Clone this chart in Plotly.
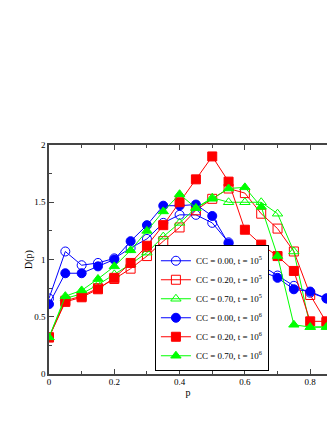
import plotly.graph_objects as go

# Data
p = [0.00, 0.05, 0.10, 0.15, 0.20, 0.25, 0.30, 0.35, 0.40,
     0.45, 0.50, 0.55, 0.60, 0.65, 0.70, 0.75, 0.80, 0.85]

cc000_t5 = [0.66, 1.07, 0.95, 0.97, 1.01, 1.10, 1.18, 1.32, 1.39,
            1.39, 1.32, 1.15, 1.05, 0.95, 0.86, 0.77, 0.71, 0.66]
cc020_t5 = [0.32, 0.64, 0.68, 0.75, 0.83, 0.92, 1.03, 1.16, 1.28,
            1.43, 1.53, 1.62, 1.58, 1.40, 1.27, 1.07, 0.69, 0.45]
cc070_t5 = [0.32, 0.66, 0.70, 0.78, 0.87, 0.96, 1.06, 1.20, 1.32,
            1.45, 1.54, 1.50, 1.50, 1.50, 1.40, 1.07, 0.41, 0.41]
cc000_t6 = [0.61, 0.88, 0.88, 0.94, 1.00, 1.16, 1.30, 1.47, 1.47,
            1.48, 1.38, 1.14, 1.00, 0.90, 0.84, 0.74, 0.72, 0.66]
cc020_t6 = [0.32, 0.63, 0.67, 0.74, 0.84, 0.97, 1.12, 1.30, 1.50,
            1.70, 1.90, 1.68, 1.26, 1.13, 1.03, 0.90, 0.46, 0.46]
cc070_t6 = [0.32, 0.68, 0.73, 0.83, 0.94, 1.08, 1.25, 1.42, 1.57,
            1.45, 1.53, 1.62, 1.63, 1.46, 1.03, 0.43, 0.41, 0.41]

series = [
    ("CC = 0.00, t = 10<sup>5</sup>", cc000_t5, "#0000ff", "circle-open"),
    ("CC = 0.20, t = 10<sup>5</sup>", cc020_t5, "#ff0000", "square-open"),
    ("CC = 0.70, t = 10<sup>5</sup>", cc070_t5, "#00ff00", "triangle-up-open"),
    ("CC = 0.00, t = 10<sup>6</sup>", cc000_t6, "#0000ff", "circle"),
    ("CC = 0.20, t = 10<sup>6</sup>", cc020_t6, "#ff0000", "square"),
    ("CC = 0.70, t = 10<sup>6</sup>", cc070_t6, "#00ff00", "triangle-up"),
]

FONT = "Liberation Serif"

fig = go.Figure()
for name, vals, color, symbol in series:
    fig.add_trace(go.Scatter(
        x=p, y=vals, name=name, mode="lines+markers",
        line=dict(color=color, width=1),
        marker=dict(symbol=symbol, size=9, color=color,
                    line=dict(color=color, width=1)),
    ))

axis_common = dict(
    showgrid=False, zeroline=False, showline=True,
    linecolor="#444", linewidth=1.5,
    ticks="inside", ticklen=5, tickcolor="#444",
    tickfont=dict(family=FONT, size=9, color="black"),
)

# plot area runs right up to (and past) the window's right edge
fig.update_layout(
    width=327, height=423,
    margin=dict(l=49, r=0, t=145, b=49),
    paper_bgcolor="white", plot_bgcolor="white",
    font=dict(family=FONT, size=9, color="black"),
    showlegend=True,
    legend=dict(
        x=0.381, y=0.012, xanchor="left", yanchor="bottom",
        bgcolor="white", bordercolor="black", borderwidth=1,
        font=dict(family=FONT, size=9, color="black"),
        tracegroupgap=0, itemwidth=30,
    ),
    xaxis=dict(
        range=[0, 0.8515], tick0=0, dtick=0.2, mirror="ticks",
        minor=dict(ticks="inside", dtick=0.1, ticklen=3, tickcolor="#444"),
        title=dict(text="p", font=dict(family=FONT, size=10), standoff=0),
        ticklabelstandoff=-2,
        **axis_common,
    ),
    yaxis=dict(
        range=[0, 2], tick0=0, dtick=0.5, mirror=False,
        minor=dict(ticks="inside", dtick=0.25, ticklen=3, tickcolor="#444"),
        title=dict(text="D(p)", font=dict(family=FONT, size=10), standoff=0),
        **axis_common,
    ),
)

# drop the default page margin so the figure sits at the window corner
fig.write_html(
    "out.html",
    config={"displayModeBar": False},
    post_script="document.body.style.margin='0';"
                "document.documentElement.style.overflow='hidden';",
)
